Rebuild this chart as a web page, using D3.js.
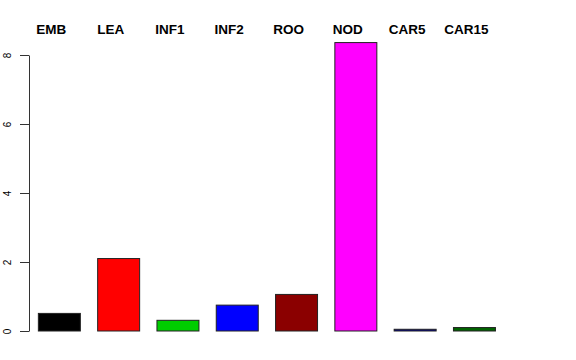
<!DOCTYPE html>
<html><head><meta charset="utf-8">
<script src="https://cdn.jsdelivr.net/npm/d3@7"></script>
<style>body{margin:0;background:#fff}</style>
</head><body>
<svg id="c" width="576" height="360"></svg>
<script>
const categories = ["EMB","LEA","INF1","INF2","ROO","NOD","CAR5","CAR15"];
const values = [0.51, 2.10, 0.31, 0.75, 1.06, 8.36, 0.05, 0.10];
const colors = ["#000000","#FF0000","#00CD00","#0000FF","#8B0000","#FF00FF","#00008B","#006400"];
const yTicks = [0, 2, 4, 6, 8];

const svg = d3.select("#c");
const x = d3.scaleBand().domain(categories).range([29.7, 504.1]).paddingInner(0.292).paddingOuter(0.146);
const y = d3.scaleLinear().domain([0, 8]).range([331, 55]);

svg.append("g").selectAll("rect").data(categories).join("rect")
  .attr("x", d => x(d)).attr("width", x.bandwidth())
  .attr("y", (d,i) => y(values[i])).attr("height", (d,i) => y(0) - y(values[i]))
  .attr("fill", (d,i) => colors[i]).attr("stroke", "#222").attr("stroke-width", 1);

const ax = svg.append("g").attr("transform", "translate(29,0)")
  .call(d3.axisLeft(y).tickValues(yTicks).tickSize(9).tickSizeOuter(0).tickFormat(d3.format("d")));
ax.select(".domain").attr("stroke", "#333");
ax.selectAll(".tick line").attr("stroke", "#333");
ax.selectAll(".tick text")
  .attr("x", null).attr("dy", null)
  .attr("transform", "translate(-18.5,0) rotate(-90)")
  .attr("text-anchor", "middle")
  .attr("font-family", "Liberation Sans, Arial, sans-serif").attr("font-size", 10).attr("fill", "#000");

svg.append("g").selectAll("text").data(categories).join("text")
  .attr("x", d => x(d) + x.bandwidth()/2 - 8).attr("y", 34)
  .attr("text-anchor", "middle")
  .attr("font-family", "Liberation Sans, Arial, sans-serif").attr("font-weight", "bold").attr("font-size", 13.5)
  .text(d => d);
</script>
</body></html>
